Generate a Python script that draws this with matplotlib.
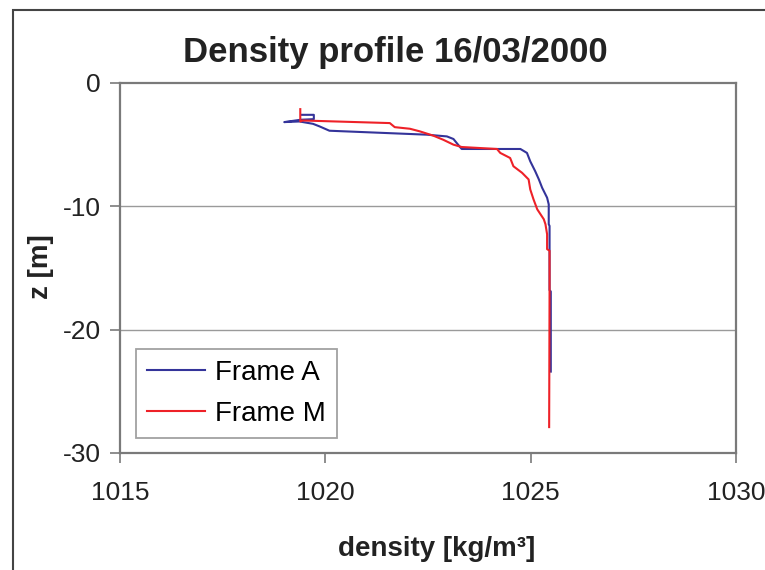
import matplotlib
matplotlib.use('Agg')
import matplotlib.pyplot as plt
from matplotlib.patches import Rectangle

plt.rcParams['font.family'] = ['Liberation Sans', 'DejaVu Sans']

# Frame A profile (density kg/m3, depth m)
dens_a = [1019.42, 1019.72, 1019.72, 1019.40, 1019.00, 1019.37, 1019.70, 1019.86,
          1020.10, 1022.47, 1022.96, 1023.12, 1023.20, 1023.32, 1024.75, 1024.91,
          1024.99, 1025.11, 1025.20, 1025.28, 1025.40, 1025.44, 1025.44, 1025.46,
          1025.46, 1025.49, 1025.49]
z_a = [-2.58, -2.58, -2.93, -2.98, -3.17, -3.12, -3.31, -3.52,
       -3.87, -4.19, -4.33, -4.54, -4.87, -5.35, -5.35, -5.67,
       -6.35, -7.15, -7.82, -8.50, -9.30, -9.84, -11.45, -11.59,
       -16.8, -16.9, -23.4]

# Frame M profile
dens_m = [1019.39, 1019.39, 1019.45, 1021.57, 1021.69, 1022.06, 1022.30, 1022.63,
          1022.87, 1023.12, 1023.32, 1024.18, 1024.26, 1024.50, 1024.58, 1024.79,
          1024.95, 1024.99, 1025.07, 1025.16, 1025.32, 1025.36, 1025.40, 1025.40,
          1025.46, 1025.46, 1025.45]
z_m = [-2.12, -3.12, -3.04, -3.25, -3.58, -3.71, -3.92, -4.27,
       -4.60, -5.00, -5.19, -5.35, -5.67, -6.08, -6.75, -7.28,
       -7.82, -8.63, -9.44, -10.24, -11.05, -11.45, -12.26, -13.47,
       -13.60, -17.0, -27.9]

x_ticks = [1015, 1020, 1025, 1030]
y_ticks = [0, -10, -20, -30]

fig = plt.figure(figsize=(7.65, 5.7), dpi=100)
fig.patches.append(Rectangle((13 / 765, -0.1), 1.2, 1.1 - 10 / 570,
                             transform=fig.transFigure, fill=False,
                             edgecolor='#444444', linewidth=1.5))

ax = fig.add_axes([120 / 765, 1 - 453 / 570, 616 / 765, 370 / 570])
ax.plot(dens_a, z_a, color='#34349a', lw=1.5, label='Frame A')
ax.plot(dens_m, z_m, color='#ee2128', lw=1.5, label='Frame M')

ax.set_xlim(1015, 1030)
ax.set_ylim(-30, 0)
ax.set_xticks(x_ticks)
ax.set_yticks(y_ticks)
ax.set_xticklabels([str(v) for v in x_ticks])
ax.set_yticklabels([str(v) for v in y_ticks])
for v in [-10, -20]:
    ax.axhline(v, color='#9a9a9a', lw=1.0, zorder=0)

for s in ax.spines.values():
    s.set_color('#7a7a7a')
    s.set_linewidth(1.6)
ax.tick_params(axis='both', colors='#7a7a7a', labelcolor='#222222',
               length=7, width=1.2, labelsize=19)
ax.tick_params(axis='x', pad=13)
ax.tick_params(axis='y', pad=7)

leg = ax.legend(loc='lower left', bbox_to_anchor=(16 / 616, 15 / 370),
                fontsize=20, frameon=True, fancybox=False, borderpad=0.4,
                handlelength=2.1, handletextpad=0.35, labelspacing=0.55,
                borderaxespad=0)
leg.get_frame().set_edgecolor('#8a8a8a')
leg.get_frame().set_linewidth(1.3)

fig.text(395 / 765, 1 - 62 / 570, 'Density profile 16/03/2000', ha='center',
         va='baseline', fontsize=25, fontweight='bold', color='#222222')
fig.text(41 / 765, 1 - 267 / 570, 'z [m]', rotation=90, ha='center',
         va='center', fontsize=20, fontweight='bold', color='#222222')
fig.text(437 / 765, 1 - 549 / 570, 'density [kg/m³]', ha='center',
         va='center', fontsize=20, fontweight='bold', color='#222222')

fig.savefig('out.png', dpi=100)
